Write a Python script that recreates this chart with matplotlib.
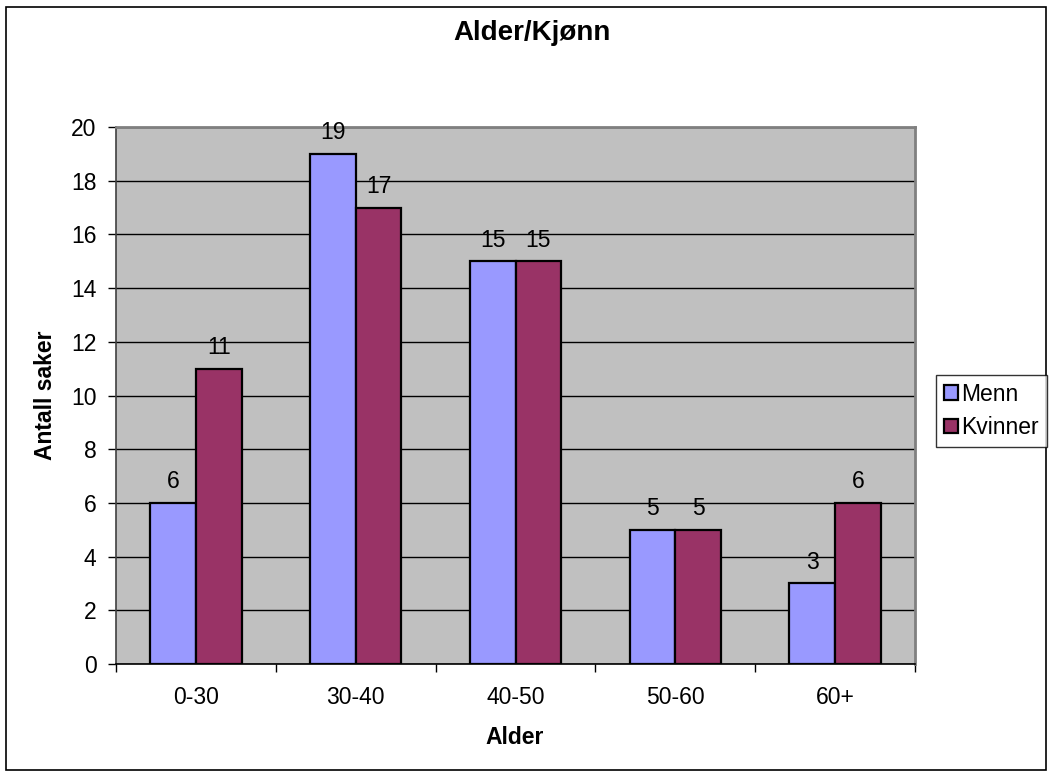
import numpy as np
import matplotlib.pyplot as plt
from matplotlib.patches import Rectangle

plt.rcParams['font.family'] = ['Liberation Sans', 'DejaVu Sans']

grupper = ['0-30', '30-40', '40-50', '50-60', '60+']
menn = [6, 19, 15, 5, 3]
kvinner = [11, 17, 15, 5, 6]

fig = plt.figure(figsize=(10.53, 7.76), dpi=100)
ax = fig.add_axes([0.1102, 0.1443, 0.7588, 0.692])

# ramme rundt hele figuren
fig.patches.append(Rectangle((6 / 1053, 6 / 776), 1040 / 1053, 763 / 776,
                             transform=fig.transFigure, fill=False,
                             edgecolor='black', linewidth=1.2))

fs = 16.5
ax.set_facecolor('#C0C0C0')
x = np.arange(len(grupper))
b = 0.286
s1 = ax.bar(x - b / 2, menn, b, color='#9999FF', edgecolor='black', linewidth=1.6, label='Menn', zorder=3)
s2 = ax.bar(x + b / 2, kvinner, b, color='#993366', edgecolor='black', linewidth=1.6, label='Kvinner', zorder=3)

for rects in (s1, s2):
    for r in rects:
        ax.annotate(str(int(r.get_height())), (r.get_x() + r.get_width() / 2, r.get_height()),
                    xytext=(0, 7), textcoords='offset points', ha='center', va='bottom', fontsize=fs)

ax.set_xlim(-0.5, len(grupper) - 0.5)
ax.set_ylim(0, 20)
ax.set_yticks(range(0, 21, 2))
ax.yaxis.grid(True, color='black', linewidth=1, zorder=1)
ax.set_axisbelow(True)

ax.set_xticks(x)
ax.set_xticklabels(grupper, fontsize=fs)
ax.set_xticks(np.arange(-0.5, len(grupper)), minor=True)
ax.tick_params(axis='x', which='major', length=0, pad=16)
ax.tick_params(axis='x', which='minor', length=6, width=1, direction='out')
ax.tick_params(axis='y', length=6, width=1, direction='out', pad=8, labelsize=fs)

for side in ('top', 'right'):
    ax.spines[side].set_color('#808080')
    ax.spines[side].set_linewidth(2)
ax.spines['left'].set_color('#404040')
ax.spines['left'].set_linewidth(1.2)
ax.spines['bottom'].set_color('black')
ax.spines['bottom'].set_linewidth(1.2)

fig.text(515 / 1053, 1 - 738 / 776, 'Alder', ha='center', va='center', fontsize=fs, fontweight='bold')
fig.text(45 / 1053, 1 - 395 / 776, 'Antall saker', ha='center', va='center', rotation=90,
         fontsize=fs, fontweight='bold')
fig.text(532 / 1053, 1 - 33 / 776, 'Alder/Kjønn', ha='center', va='center', fontsize=20, fontweight='bold')

leg = fig.legend(handles=[s1, s2], loc='center left', bbox_to_anchor=(936 / 1053, 1 - 411 / 776),
                 fontsize=fs, frameon=True, fancybox=False, edgecolor='black',
                 handlelength=0.6, handleheight=0.6, handletextpad=0.15,
                 borderpad=0.35, labelspacing=0.45, borderaxespad=0)
leg.get_frame().set_linewidth(1)

fig.savefig('out.png', dpi=100)
